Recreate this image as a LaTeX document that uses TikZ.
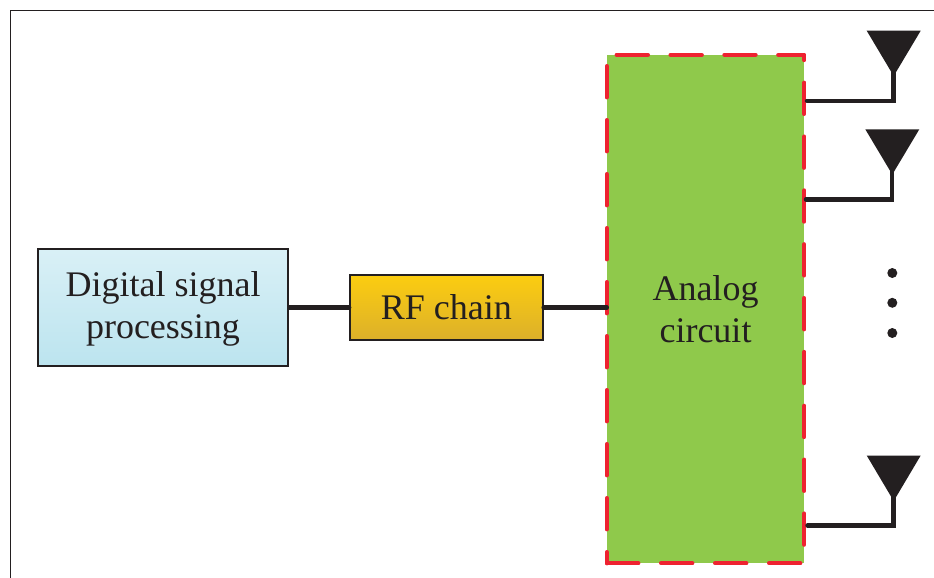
\documentclass[tikz,border=0pt]{standalone}
\usepackage{fontspec}
\setmainfont{Liberation Serif}
\definecolor{ink}{HTML}{231F20}
\definecolor{agreen}{HTML}{8FC94B}
\definecolor{ared}{HTML}{EE2230}
\definecolor{dsptop}{HTML}{D9F0F6}
\definecolor{dspbot}{HTML}{BCE4EF}
\definecolor{rftop}{HTML}{FCCD10}
\definecolor{rfbot}{HTML}{DCB02A}
\tikzset{
  px/.style={x=1pt,y=-1pt},
  blocktext/.style={inner sep=0pt,align=center,font=\fontsize{36}{42.5}\selectfont,text=ink},
  blockbox/.style={blocktext,draw=ink,line width=2pt},
  wire/.style={draw=ink,line width=4.4pt,line cap=round,line join=miter},
  antenna/.style={fill=ink,draw=none},
  vdot/.style={circle,fill=ink,draw=none,minimum size=10pt,inner sep=0pt},
  frameline/.style={draw=ink,line width=1.2pt},
  reddash/.style={draw=ared,line width=4.4pt,line cap=round,line join=round}
}
\begin{document}
\begin{tikzpicture}[px]
\useasboundingbox (0,0) rectangle (934,578);
\fill[white] (0,0) rectangle (934,578);
\coordinate (f1) at (934,10.3); \coordinate (f2) at (10.3,10.3); \coordinate (f3) at (10.3,578);
\draw[frameline] (f1) -- (f2) -- (f3);
% blocks
\node[blockbox,minimum width=250.5pt,minimum height=117pt,top color=dsptop,bottom color=dspbot] (dsp) at (163,307.5) {\rule{0pt}{28pt}Digital signal\\processing};
\node[blockbox,minimum width=192.5pt,minimum height=65.5pt,top color=rftop,bottom color=rfbot] (rf) at (446.4,307.5) {RF chain};
\node[blocktext,minimum width=197pt,minimum height=508pt,fill=agreen] (ac) at (705.5,309) {Analog\\circuit};
% dashed outline, side by side
\draw[reddash,dash pattern=on 31pt off 22.85pt,dash phase=43.85pt] (ac.north west) -- (ac.north east) -- (ac.south east);
\draw[reddash,dash pattern=on 31pt off 23pt,dash phase=50pt] (ac.south east) -- (ac.south west);
\draw[reddash,dash pattern=on 31pt off 23pt,dash phase=20pt] (ac.south west) -- (ac.north west);
% wires
\draw[wire] (dsp.east) -- (rf.west);
\draw[wire] (rf.east) -- (rf.east -| ac.west);
% antennas
\coordinate (a1) at (893.4,72); \coordinate (a2) at (892.1,170); \coordinate (a3) at (893.4,497);
\coordinate (p1) at (807,100.7); \coordinate (p2) at (806,199.3); \coordinate (p3) at (807.5,525.5);
\draw[wire] (p1) -| (a1);
\draw[wire] (p2) -| (a2);
\draw[wire] (p3) -| (a3);
\fill[antenna] (893.7,76) -- (866.7,30.7) -- (920.7,30.7) -- cycle;
\fill[antenna] (892.3,174.5) -- (865.3,129.3) -- (919.3,129.3) -- cycle;
\fill[antenna] (893.7,501) -- (866.7,455.5) -- (920.7,455.5) -- cycle;
\node[vdot] (d1) at (892.3,273) {};
\node[vdot] (d2) at (892.3,302.8) {};
\node[vdot] (d3) at (892.3,333) {};
\end{tikzpicture}
\end{document}
